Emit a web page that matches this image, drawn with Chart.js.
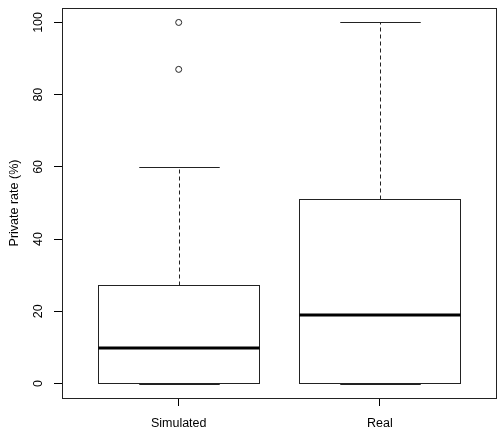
<!DOCTYPE html>
<html>
<head>
<meta charset="utf-8">
<script src="https://cdn.jsdelivr.net/npm/chart.js@4"></script>
<style>
  html, body { margin: 0; padding: 0; background: #fff; }
  #wrap { width: 502px; height: 440px; }
</style>
</head>
<body>
<div id="wrap"><canvas id="boxChart" width="502" height="440"></canvas></div>
<script>
// data
var groups = ["Simulated", "Real"];
var lowerWhisker = [0, 0];
var q1 = [0, 0];
var median = [9.9, 19.1];
var q3 = [27.4, 51.2];
var upperWhisker = [60, 100];
var outliers = [[87, 100], []];
var yTicks = [0, 20, 40, 60, 80, 100];

var lineColor = "#222";
var font = { family: "'Liberation Sans', Arial, sans-serif", size: 12.5 };

var boxData = groups.map(function (g, i) {
    return { x: i + 1, y: [q1[i], q3[i]] };
});
var outlierData = [];
outliers.forEach(function (list, i) {
    list.forEach(function (v) { outlierData.push({ x: i + 1, y: v }); });
});

function px(v) { return Math.round(v) + 0.5; }

// box outlines, medians, whiskers and caps, drawn through the chart scales
var boxExtras = {
    id: "boxExtras",
    afterDatasetsDraw: function (chart) {
        var ctx = chart.ctx;
        var xs = chart.scales.x, ys = chart.scales.y;
        var meta = chart.getDatasetMeta(0);
        ctx.save();
        groups.forEach(function (g, i) {
            var bar = meta.data[i];
            var half = bar.width / 2;
            var cx = px(xs.getPixelForValue(i + 1));
            // whiskers
            ctx.strokeStyle = lineColor;
            ctx.lineWidth = 1;
            ctx.setLineDash([4, 3]);
            ctx.beginPath();
            ctx.moveTo(cx, px(ys.getPixelForValue(q3[i])));
            ctx.lineTo(cx, px(ys.getPixelForValue(upperWhisker[i])));
            if (lowerWhisker[i] < q1[i]) {
                ctx.moveTo(cx, px(ys.getPixelForValue(q1[i])));
                ctx.lineTo(cx, px(ys.getPixelForValue(lowerWhisker[i])));
            }
            ctx.stroke();
            ctx.setLineDash([]);
            // box
            ctx.strokeRect(px(bar.x - half), px(bar.y),
                Math.round(bar.width), Math.round(bar.base - bar.y));
            // caps
            ctx.beginPath();
            [upperWhisker[i], lowerWhisker[i]].forEach(function (v) {
                var py = px(ys.getPixelForValue(v));
                ctx.moveTo(cx - half / 2, py);
                ctx.lineTo(cx + half / 2, py);
            });
            ctx.stroke();
            // median
            ctx.lineWidth = 3;
            ctx.strokeStyle = "#000";
            var yMed = Math.round(ys.getPixelForValue(median[i]));
            ctx.beginPath();
            ctx.moveTo(px(bar.x - half), yMed);
            ctx.lineTo(px(bar.x + half), yMed);
            ctx.stroke();
        });
        // frame
        var a = chart.chartArea;
        ctx.lineWidth = 1;
        ctx.strokeStyle = lineColor;
        ctx.strokeRect(px(a.left), px(a.top),
            Math.round(a.right - a.left) - 1, Math.round(a.bottom - a.top));
        ctx.restore();
    }
};

var ctx = document.getElementById("boxChart").getContext("2d");
var boxChart = new Chart(ctx, {
    data: {
        datasets: [{
            type: "bar",
            data: boxData,
            backgroundColor: "#fff",
            borderWidth: 0,
            categoryPercentage: 1,
            barPercentage: 0.8
        }, {
            type: "scatter",
            data: outlierData,
            pointStyle: "circle",
            pointRadius: 3,
            pointBackgroundColor: "#fff",
            pointBorderColor: lineColor,
            pointBorderWidth: 1
        }]
    },
    options: {
        responsive: false,
        animation: false,
        events: [],
        layout: { padding: { left: 0, right: 4, top: 8, bottom: 0 } },
        plugins: { legend: { display: false }, tooltip: { enabled: false } },
        scales: {
            x: {
                type: "linear",
                offset: false,
                min: 0.42,
                max: 2.582,
                afterBuildTicks: function (s) {
                    s.ticks = groups.map(function (g, i) { return { value: i + 1 }; });
                },
                afterFit: function (s) { s.height = 42; s.paddingLeft = 0; s.paddingRight = 0; },
                grid: { offset: false, drawOnChartArea: false, drawTicks: true, tickLength: 8, color: "#000" },
                border: { display: false },
                ticks: {
                    color: "#000",
                    font: font,
                    padding: 10,
                    maxRotation: 0,
                    autoSkip: false,
                    callback: function (v) { return groups[v - 1]; }
                }
            },
            y: {
                type: "linear",
                min: -4,
                max: 104,
                afterBuildTicks: function (s) {
                    s.ticks = yTicks.map(function (v) { return { value: v }; });
                },
                afterFit: function (s) { s.width = 62; s.paddingTop = 0; s.paddingBottom = 0; },
                grid: { drawOnChartArea: false, drawTicks: true, tickLength: 8, color: "#000" },
                border: { display: false },
                ticks: {
                    color: "#000",
                    font: font,
                    minRotation: 90,
                    maxRotation: 90,
                    crossAlign: "center",
                    padding: 5,
                    autoSkip: false
                },
                title: {
                    display: true,
                    text: "Private rate (%)",
                    color: "#000",
                    font: font,
                    padding: { top: 7, bottom: 0 }
                }
            }
        }
    },
    plugins: [boxExtras]
});
</script>
</body>
</html>
